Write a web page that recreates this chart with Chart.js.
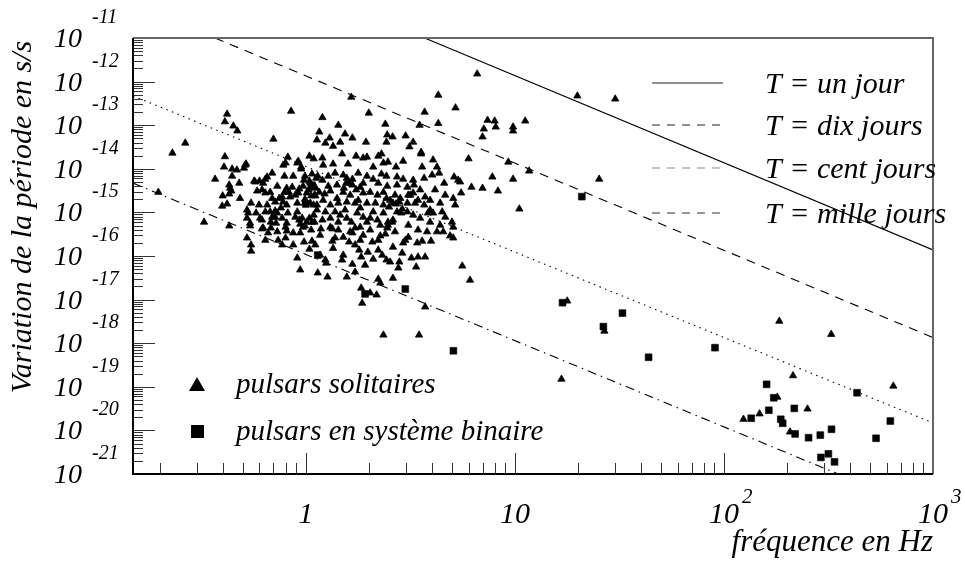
<!DOCTYPE html>
<html lang="fr">
<head>
<meta charset="utf-8">
<title>Pulsars</title>
<script src="https://cdn.jsdelivr.net/npm/chart.js@4.4.1/dist/chart.umd.min.js"></script>
<style>
  html, body { margin: 0; padding: 0; background: #fff; }
  #chart { display: block; }
</style>
</head>
<body>
<canvas id="chart" width="965" height="565"></canvas>
<script>
// [fréquence en Hz, variation de la période en s/s]
const solitaryPulsars = [
  [6.6,1.5e-12],[4.3,4.9e-13],[1.65,4.4e-13],[5.2,2.5e-13],[0.85,2.1e-13],[0.42,1.8e-13],[1.2,1.5e-13],[2.0,1.9e-13],[3.7,2.0e-13],[0.41,1.2e-13],
  [0.45,9.6e-14],[0.47,7.4e-14],[1.43,1.0e-13],[2.4,1.06e-13],[3.5,1.0e-13],[4.3,1.1e-13],[7.4,1.3e-13],[8.0,1.25e-13],[7.1,8.2e-14],[8.1,9.1e-14],
  [9.8,9.1e-14],[9.8,7.4e-14],[11.2,1.25e-13],[7.0,5.4e-14],[0.70,4.8e-14],[0.265,3.9e-14],[0.23,2.3e-14],[1.16,7.0e-14],[1.13,4.6e-14],[1.3,5.1e-14],
  [1.54,6.3e-14],[1.67,5.1e-14],[1.24,3.9e-14],[1.35,3.3e-14],[1.46,4.1e-14],[1.94,4.1e-14],[2.45,6.0e-14],[2.6,5.4e-14],[3.0,5.7e-14],[2.43,4.1e-14],
  [3.26,4.1e-14],[3.13,3.2e-14],[3.56,2.4e-14],[3.56,2.2e-14],[6.0,1.7e-14],[9.3,1.43e-14],[7.8,6.5e-15],[9.8,5.8e-15],[8.3,3.1e-15],[10.5,1.2e-15],
  [11.7,8.9e-15],[6.2,3.8e-15],[7.0,3.6e-15],[0.197,2.9e-15],[0.326,6.0e-16],[0.43,4.9e-16],[0.368,5.8e-15],[0.41,1.9e-14],[0.406,1.1e-14],[0.444,9.9e-15],
  [0.468,9.4e-15],[0.512,1.22e-14],[0.506,1.04e-14],[0.43,4.25e-15],[0.434,3.6e-15],[0.40,2.4e-15],[0.43,2.65e-15],[0.44,3.1e-15],[0.398,1.4e-15],[0.42,1.56e-15],
  [0.48,4.7e-15],[0.484,2.1e-15],[0.523,1.14e-15],[0.523,7.4e-16],[0.541,5.7e-16],[0.523,2.6e-16],[0.547,1.8e-16],[0.547,1.3e-16],[0.69,8.0e-15],[0.566,5.25e-15],
  [0.82,1.86e-14],[0.92,1.5e-14],[1.04,1.96e-14],[1.09,1.7e-14],[1.2,1.77e-14],[1.21,1.22e-14],[1.35,1.29e-14],[1.49,2.2e-14],[1.59,1.29e-14],[1.74,1.96e-14],
  [1.88,1.77e-14],[1.96,1.86e-14],[2.22,1.96e-14],[2.3,2.2e-14],[2.35,1.36e-14],[2.47,1.43e-14],[2.7,1.1e-14],[2.92,1.5e-14],[4.06,1.6e-14],[4.24,1.1e-14],
  [3.6,1.1e-14],[2.1,1.1e-14],[0.78,1.22e-14],[0.8,1.36e-14],[0.91,1.36e-14],[0.95,1.1e-14],
  [0.6,5.25e-15],[0.73,4.0e-15],[0.79,6.8e-15],[0.87,6.8e-15],[0.95,9.9e-15],[0.98,5.5e-15],[1.07,7.6e-15],[1.14,6.8e-15],[1.2,5.5e-15],[1.28,6.8e-15],
  [1.38,8.0e-15],[1.51,7.2e-15],[1.57,6.1e-15],[1.67,5.8e-15],[1.78,8.0e-15],[1.96,6.8e-15],[2.1,5.8e-15],[2.3,7.6e-15],[2.43,6.8e-15],[2.73,6.5e-15],
  [2.92,5.8e-15],[3.26,5.5e-15],[3.68,6.1e-15],[4.02,7.2e-15],[4.34,8.0e-15],[5.12,6.5e-15],[5.35,5.5e-15],[4.59,4.7e-15],[5.47,5.0e-15],[0.625,4.7e-15],
  [0.653,6.5e-15],[0.81,3.6e-15],[0.86,3.8e-15],[1.05,4.7e-15],[1.11,3.8e-15],[1.28,4.0e-15],[1.41,4.25e-15],[1.56,4.7e-15],[1.82,3.8e-15],[1.88,4.7e-15],
  [2.22,4.7e-15],[2.45,4.0e-15],[2.73,4.25e-15],[3.06,3.8e-15],[3.29,4.25e-15],[0.64,5.8e-15],[0.572,5.0e-15],[0.444,6.8e-15],[0.518,1.29e-14],
  [0.585,3.1e-15],[0.64,2.8e-15],[0.675,2.9e-15],[0.746,2.1e-15],[0.79,2.9e-15],[0.83,2.9e-15],[0.89,2.5e-15],[0.93,3.45e-15],[1.01,2.8e-15],[1.1,2.5e-15],
  [1.16,2.9e-15],[1.23,2.65e-15],[1.31,3.1e-15],[1.41,2.1e-15],[1.51,2.9e-15],[1.63,2.5e-15],[1.78,1.9e-15],[1.88,2.8e-15],[2.03,2.9e-15],[2.2,2.5e-15],
  [2.35,2.9e-15],[2.53,1.9e-15],[2.67,2.5e-15],[2.83,2.1e-15],[3.09,2.5e-15],[3.26,2.8e-15],[3.44,1.9e-15],[3.72,2.26e-15],[3.93,1.9e-15],[4.64,2.5e-15],
  [5.07,2.1e-15],[5.18,1.48e-15],[5.53,2.8e-15],[0.547,1.64e-15],[0.597,1.48e-15],[0.653,1.48e-15],[0.713,1.73e-15],[0.778,1.73e-15],[0.91,1.64e-15],[0.99,1.64e-15],
  [1.05,1.64e-15],[1.13,1.48e-15],[1.21,1.9e-15],[1.43,1.64e-15],[1.57,1.73e-15],[1.72,1.64e-15],[1.96,1.64e-15],[2.15,1.64e-15],[2.35,1.48e-15],[2.61,1.64e-15],
  [2.8,1.73e-15],[3.06,1.64e-15],[3.33,1.64e-15],[3.68,1.48e-15],[0.617,3.3e-15],[0.69,2.1e-15],[0.77,2.26e-15],[0.84,2.26e-15],[0.92,2.8e-15],[1.11,2.4e-15],
  [0.76,1.27e-15],[0.81,1.48e-15],[1.09,1.48e-15],
  [0.53,9.7e-16],[0.578,9.7e-16],[0.617,6.7e-16],[0.675,1.03e-15],[0.73,9.7e-16],[0.77,7.4e-16],[0.82,9.7e-16],[0.91,1.03e-15],[0.96,7.4e-16],[1.01,6.0e-16],
  [1.07,6.0e-16],[1.13,1.14e-15],[1.24,1.03e-15],[1.31,7.4e-16],[1.38,1.03e-15],[1.46,8.7e-16],[1.57,7.4e-16],[1.65,6.0e-16],[1.76,9.7e-16],[1.88,7.8e-16],
  [1.96,6.0e-16],[2.1,1.03e-15],[2.2,6.7e-16],[2.35,9.7e-16],[2.47,6.0e-16],[2.59,6.0e-16],[2.73,1.03e-15],[2.86,9.7e-16],[3.06,1.03e-15],[3.26,8.7e-16],
  [3.84,9.7e-16],[4.06,9.7e-16],[4.49,1.03e-15],[4.64,7.8e-16],[5.0,6.0e-16],[0.94,5.4e-16],[0.713,1.08e-15],[0.713,7.8e-16],[0.604,7.4e-16],[0.69,7.8e-16],
  [0.89,7.8e-16],[1.09,8.7e-16],[0.68,6.0e-16],[0.72,5.7e-16],[0.81,5.7e-16],[1.1,6.0e-16],
  [0.617,4.2e-16],[0.66,3.4e-16],[0.73,3.6e-16],[0.737,2.3e-16],[0.8,4.6e-16],[0.87,3.4e-16],[0.97,4.6e-16],[0.98,2.1e-16],[1.07,2.2e-16],[1.18,4.2e-16],
  [1.31,4.6e-16],[1.34,2.2e-16],[1.43,3.95e-16],[1.63,3.6e-16],[1.82,4.6e-16],[1.88,3.0e-16],[2.03,3.95e-16],[2.08,2.1e-16],[2.22,2.3e-16],[2.45,4.4e-16],
  [2.61,6.7e-16],[2.99,2.3e-16],[3.09,2.7e-16],[3.44,3.95e-16],[3.8,3.6e-16],[4.24,3.6e-16],[4.54,3.6e-16],[4.9,2.9e-16],[5.07,2.6e-16],[0.77,1.8e-16],
  [0.87,1.8e-16],[0.541,4.9e-16],[0.625,4.4e-16],[0.68,4.4e-16],[0.81,3.75e-16],[1.04,1.44e-16],[1.06,3.95e-16],[1.34,4.2e-16],[1.51,2.7e-16],[1.61,2.1e-16],
  [1.67,3.4e-16],[2.27,2.9e-16],[2.4,3.2e-16],[2.47,5.1e-16],[3.09,5.1e-16],[5.07,4.6e-16],
  [1.17,1.05e-16],[1.35,1.5e-16],[1.51,1.05e-16],[1.8,1.37e-16],[1.98,1.23e-16],[2.22,1.37e-16],[2.32,1.05e-16],[2.61,1.6e-16],[2.89,1.17e-16],[3.2,9.0e-17],
  [3.44,9.5e-17],[3.72,9.5e-17],[0.91,9.0e-17],[1.11,1.8e-16],[1.49,8.1e-17],[1.67,6.5e-17],[1.84,9.5e-17],[2.1,8.5e-17],[2.43,8.1e-17],[2.53,7.3e-17],
  [2.8,7.3e-17],[2.77,5.3e-17],[2.92,2.0e-16],[3.37,5.6e-17],[3.41,2.0e-16],[3.6,2.2e-16],[3.97,2.2e-16],[1.25,6.9e-17],[1.24,8.1e-17],[0.94,4.8e-17],
  [1.92,6.2e-17],
  [1.14,4.1e-17],[1.27,3.3e-17],[1.57,3.3e-17],[1.72,4.3e-17],[2.22,2.95e-17],[2.27,2.4e-17],[2.61,3.1e-17],[1.84,1.84e-17],[2.03,1.42e-17],[2.18,1.28e-17],
  [1.86,8.3e-18],[3.72,6.8e-18],[5.6,5.9e-17],[6.1,2.8e-17],[2.35,1.54e-18],[3.48,1.54e-18],
  [0.99,6.8e-15],[1.04,5.2e-15],[1.1,3.6e-15],[1.03,3.3e-15],[0.97,4.0e-15],[1.12,6.1e-15],[1.06,2.4e-15],[0.99,2.0e-15],[0.93,6.7e-16],[0.99,4.9e-16],
  [1.04,7.4e-16],[1.52,3.6e-15],[1.67,4.25e-15],[1.74,3.3e-15],[1.61,4.7e-15],[2.5,1.33e-15],[2.7,1.56e-15],[2.89,1.2e-15],[2.43,2.1e-15],[1.31,1.48e-15],
  [1.54,1.14e-15],[1.82,1.27e-15],[1.2,6.7e-16],[1.43,6.0e-16],[1.72,4.4e-16],[2.03,7.4e-16],[2.27,5.1e-16],[2.67,3.6e-16],[0.64,1.03e-15],[0.8,2.6e-16],
  [1.17,3.0e-16],[1.38,2.6e-16],[1.82,2.3e-16],[3.93,6.0e-16],[4.39,5.1e-16],[3.52,7.4e-16],[0.64,2.3e-16],[1.72,1.8e-16],[0.94,3.4e-16],[3.16,2.5e-15],
  [3.52,3.3e-15],[4.15,3.3e-15],[4.39,1.64e-15],[3.93,1.14e-15],
  [19.9,4.7e-13],[30.2,4.0e-13],[25.3,5.8e-15],[17.8,9.3e-18],[26.8,1.9e-18],[16.7,1.5e-19],[184,3.2e-18],[326,1.6e-18],[214,1.8e-19],
  [646,1.04e-19],[180,5.8e-20],[148,2.4e-20],[124,1.8e-20],[251,3.1e-20],[207,9.2e-21]
];

const binaryPulsars = [
  [1.07,4.2e-15],[1.0,1.56e-15],[1.14,1.05e-16],[1.92,1.35e-17],[2.99,1.75e-17],[5.08,6.7e-19],[20.9,2.3e-15],[16.9,8.5e-18],[32.7,4.9e-18],[26.5,2.4e-18],
  [43.6,4.75e-19],[90.6,7.9e-19],[433,7.3e-20],[160,1.14e-19],[173,5.6e-20],[164,2.9e-20],[135,1.9e-20],[217,3.2e-20],[187,1.8e-20],[191,1.46e-20],
  [219,8.3e-21],[254,6.8e-21],[289,7.8e-21],[327,1.06e-20],[625,1.64e-20],[534,6.6e-21],[291,2.4e-21],[316,2.9e-21],[338,1.9e-21]
];

// extrémités des droites T = constante
const lineUnJour = [[3.7, 1e-11], [1000, 1.38e-16]];
const lineDixJours = [[0.368, 1e-11], [1000, 1.35e-18]];
const lineCentJours = [[0.149, 4.7e-13], [1000, 1.48e-20]];
const lineMilleJours = [[0.149, 4.7e-15], [352, 1e-21]];

const lineLabels = ['T = un jour', 'T = dix jours', 'T = cent jours', 'T = mille jours'];
const markerLabels = ['pulsars solitaires', 'pulsars en système binaire'];

const xTickValues = [1, 10, 100, 1000];
const xTickBases = ['1', '10', '10', '10'];
const xTickExps = ['', '', '2', '3'];
const yTickValues = [1e-21, 1e-20, 1e-19, 1e-18, 1e-17, 1e-16, 1e-15, 1e-14, 1e-13, 1e-12, 1e-11];
const yTickExps = ['-21', '-20', '-19', '-18', '-17', '-16', '-15', '-14', '-13', '-12', '-11'];

const xTitle = 'fréquence en Hz';
const yTitle = 'Variation de la période en s/s';

const SERIF = '"Liberation Serif", "Times New Roman", serif';

function toPoints(pairs) {
    return pairs.map(p => ({ x: p[0], y: p[1] }));
}

function lineDataset(pairs, dash) {
    return {
        data: toPoints(pairs),
        showLine: true,
        borderColor: '#000',
        borderWidth: 1.1,
        borderDash: dash,
        pointRadius: 0,
        fill: false
    };
}

// cadre, graduations et textes a la maniere de PAW
const pawFrame = {
    id: 'pawFrame',
    afterDraw(chart) {
        const ctx = chart.ctx;
        const a = chart.chartArea;
        const xs = chart.scales.x;
        const ys = chart.scales.y;
        ctx.save();

        // graduations
        ctx.strokeStyle = '#333';
        ctx.lineWidth = 1;
        ctx.beginPath();
        for (let e = -1; e <= 3; e++) {
            for (let m = 1; m <= 9; m++) {
                const v = m * Math.pow(10, e);
                if (v < xs.min || v > xs.max * 1.0001) continue;
                const px = Math.round(xs.getPixelForValue(v)) + 0.5;
                ctx.moveTo(px, a.bottom);
                ctx.lineTo(px, a.bottom - (m === 1 ? 21 : 11));
            }
        }
        for (let e = -21; e <= -11; e++) {
            for (let m = 1; m <= 9; m++) {
                const v = m * Math.pow(10, e);
                if (v > ys.max * 1.0001) continue;
                const py = Math.round(ys.getPixelForValue(v)) + 0.5;
                ctx.moveTo(a.left, py);
                ctx.lineTo(a.left + (m === 1 ? 22 : 10), py);
            }
        }
        ctx.stroke();

        // cadre
        ctx.lineWidth = 2;
        ctx.strokeStyle = '#666';
        ctx.beginPath();
        ctx.moveTo(a.left, a.top);
        ctx.lineTo(a.right, a.top);
        ctx.lineTo(a.right, a.bottom);
        ctx.stroke();
        ctx.strokeStyle = '#000';
        ctx.beginPath();
        ctx.moveTo(a.left, a.top);
        ctx.lineTo(a.left, a.bottom);
        ctx.lineTo(a.right, a.bottom);
        ctx.stroke();

        ctx.fillStyle = '#000';
        ctx.textBaseline = 'alphabetic';

        // etiquettes de l'axe y
        yTickValues.forEach((v, i) => {
            const py = ys.getPixelForValue(v);
            ctx.font = 'italic 28px ' + SERIF;
            ctx.textAlign = 'right';
            ctx.fillText('10', 82, py + 9);
            ctx.font = 'italic 20px ' + SERIF;
            ctx.textAlign = 'left';
            ctx.fillText(yTickExps[i], 92, py - 15);
        });

        // etiquettes de l'axe x
        xTickValues.forEach((v, i) => {
            const px = xs.getPixelForValue(v);
            ctx.font = 'italic 30px ' + SERIF;
            ctx.textAlign = 'center';
            ctx.fillText(xTickBases[i], px, 523);
            if (xTickExps[i]) {
                const w = ctx.measureText(xTickBases[i]).width;
                ctx.font = 'italic 21px ' + SERIF;
                ctx.textAlign = 'left';
                ctx.fillText(xTickExps[i], px + w / 2 + 3, 503);
            }
        });

        // titres des axes
        ctx.font = 'italic 31px ' + SERIF;
        ctx.textAlign = 'right';
        ctx.fillText(xTitle, a.right, 551);
        ctx.save();
        ctx.font = 'italic 30px ' + SERIF;
        ctx.translate(31, 217);
        ctx.rotate(-Math.PI / 2);
        ctx.textAlign = 'center';
        ctx.fillText(yTitle, 0, 0);
        ctx.restore();

        // legende des droites
        const legendDash = [[], [8, 7], [8, 7], [8, 7]];
        const legendColor = ['#222', '#222', '#888', '#333'];
        const legendY = [83, 125, 168, 213];
        lineLabels.forEach((label, i) => {
            ctx.beginPath();
            ctx.setLineDash(legendDash[i]);
            ctx.lineWidth = 1.2;
            ctx.strokeStyle = legendColor[i];
            ctx.moveTo(652, legendY[i]);
            ctx.lineTo(723, legendY[i]);
            ctx.stroke();
            ctx.setLineDash([]);
            ctx.font = 'italic 30px ' + SERIF;
            ctx.textAlign = 'left';
            ctx.fillText(label, 765, legendY[i] + 10);
        });

        // legende des symboles
        ctx.beginPath();
        ctx.moveTo(197, 377);
        ctx.lineTo(205, 391);
        ctx.lineTo(189, 391);
        ctx.closePath();
        ctx.fill();
        ctx.fillRect(191, 425, 13, 13);
        ctx.font = 'italic 29px ' + SERIF;
        ctx.textAlign = 'left';
        ctx.fillText(markerLabels[0], 236, 393);
        ctx.fillText(markerLabels[1], 236, 440);

        ctx.restore();
    }
};

new Chart(document.getElementById('chart'), {
    type: 'scatter',
    data: {
        datasets: [
            {
                data: toPoints(solitaryPulsars),
                pointStyle: 'triangle',
                pointRadius: 4.2,
                backgroundColor: '#000',
                borderColor: '#000',
                borderWidth: 0.8
            },
            {
                data: toPoints(binaryPulsars),
                pointStyle: 'rect',
                pointRadius: 4.8,
                backgroundColor: '#000',
                borderColor: '#000',
                borderWidth: 0.6
            },
            lineDataset(lineUnJour, []),
            lineDataset(lineDixJours, [9, 7]),
            lineDataset(lineCentJours, [1.5, 4.5]),
            lineDataset(lineMilleJours, [9, 5, 1.5, 5])
        ]
    },
    options: {
        responsive: false,
        animation: false,
        devicePixelRatio: 1,
        layout: { padding: { left: 133, right: 32, top: 38, bottom: 91 } },
        plugins: { legend: { display: false }, tooltip: { enabled: false } },
        scales: {
            x: { type: 'logarithmic', min: 0.149, max: 1000, display: false },
            y: { type: 'logarithmic', min: 1e-21, max: 1e-11, display: false }
        }
    },
    plugins: [pawFrame]
});
</script>
</body>
</html>
